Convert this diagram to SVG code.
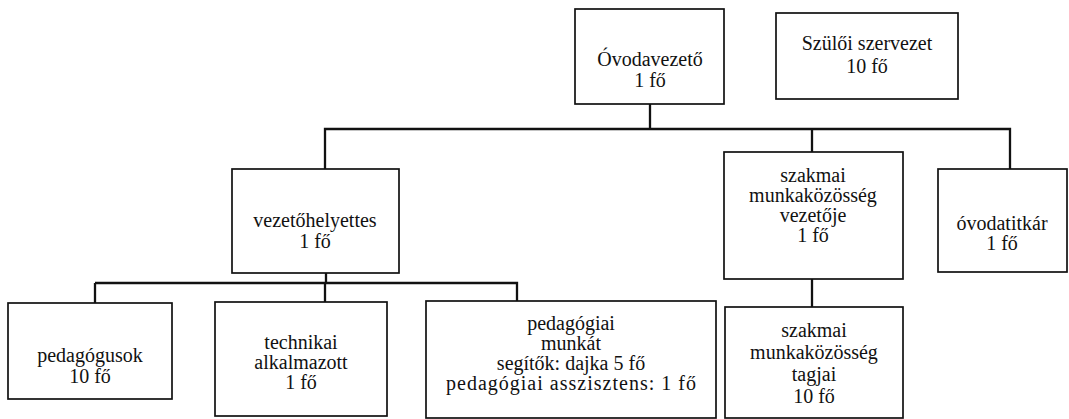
<svg xmlns="http://www.w3.org/2000/svg" width="1069" height="419" viewBox="0 0 1069 419">
<style>
.box{fill:#fff;stroke:#111;stroke-width:1.7}
.c{fill:none;stroke:#111;stroke-width:2.3}
text{font-size:20px;fill:#111;text-anchor:middle}
</style>
<rect width="1069" height="419" fill="#fff"/>
<g id="connectors">
<path class="c" d="M650 104V129M325 169V129H1010V169M812 129V152"/>
<path class="c" d="M326 273V283M95 283H517V301M95 283V303M325 283V302"/>
<path class="c" d="M812 279V307"/>
</g>
<g font-family="'Liberation Serif', Tinos, 'DejaVu Serif', serif">
<g id="ovodavezeto"><rect class="box" x="575" y="9" width="149" height="95"/>
<text x="650" y="66">Óvodavezető</text><text x="650" y="87">1 fő</text></g>
<g id="szuloi"><rect class="box" x="776" y="13" width="182" height="86"/>
<text x="867" y="50">Szülői szervezet</text><text x="867" y="73">10 fő</text></g>
<g id="vezetohelyettes"><rect class="box" x="232" y="169" width="167" height="104"/>
<text x="315" y="227">vezetőhelyettes</text><text x="315" y="248">1 fő</text></g>
<g id="szakmai-vezeto"><rect class="box" x="724" y="152" width="179" height="127"/>
<text x="813" y="182">szakmai</text><text x="813" y="202">munkaközösség</text><text x="813" y="222">vezetője</text><text x="813" y="242">1 fő</text></g>
<g id="ovodatitkar"><rect class="box" x="938" y="169" width="129" height="103"/>
<text x="1002" y="230">óvodatitkár</text><text x="1002" y="250">1 fő</text></g>
<g id="pedagogusok"><rect class="box" x="8" y="303" width="164" height="96"/>
<text x="90" y="362">pedagógusok</text><text x="90" y="383">10 fő</text></g>
<g id="technikai"><rect class="box" x="215" y="302" width="172" height="114"/>
<text x="301" y="349">technikai</text><text x="301" y="369">alkalmazott</text><text x="301" y="389">1 fő</text></g>
<g id="pedagogiai"><rect class="box" x="426" y="301" width="290" height="117"/>
<text x="571" y="330">pedagógiai</text><text x="571" y="350">munkát</text><text x="571" y="370">segítők: dajka 5 fő</text><text x="571" y="390" textLength="250" lengthAdjust="spacing">pedagógiai asszisztens: 1 fő</text></g>
<g id="szakmai-tagjai"><rect class="box" x="725" y="307" width="178" height="111"/>
<text x="814" y="337">szakmai</text><text x="814" y="359">munkaközösség</text><text x="814" y="381">tagjai</text><text x="814" y="403">10 fő</text></g>
</g>
</svg>
